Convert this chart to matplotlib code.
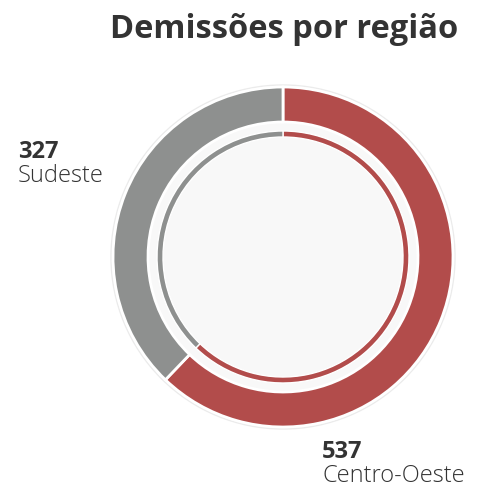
import matplotlib.pyplot as plt
from matplotlib.patches import Circle

# dados
regioes = ['Centro-Oeste', 'Sudeste']
demissoes = [537, 327]
cores = ['#b24c4b', '#8e908f']

fig = plt.figure(figsize=(4.8, 4.88), dpi=100)
ax = fig.add_axes([0, 0, 1, 1])

cx, cy = 283, 488 - 257

# fundo do donut
ax.add_patch(Circle((cx, cy), 172, facecolor='#f8f8f8', edgecolor='#ebebeb', lw=1, zorder=0))

# anel externo
ax.pie(demissoes, colors=cores, radius=170, center=(cx, cy), startangle=90,
       counterclock=False, frame=True,
       wedgeprops=dict(width=35, edgecolor='white', linewidth=2))
# anel interno
ax.pie(demissoes, colors=cores, radius=126, center=(cx, cy), startangle=90,
       counterclock=False, frame=True,
       wedgeprops=dict(width=6, edgecolor='white', linewidth=1))
ax.set_xlim(0, 480)
ax.set_ylim(0, 488)
ax.set_aspect('equal')
ax.axis('off')

fig.text(284 / 480, 1 - 30 / 488, 'Demissões por região', ha='center', va='center',
         fontsize=23.5, fontweight='bold', color='#333333', family='Open Sans')

fig.text(18 / 480, 1 - 152 / 488, str(demissoes[1]), ha='left', va='center',
         fontsize=17, fontweight='bold', color='#333333', family='Open Sans')
fig.text(18 / 480, 1 - 176 / 488, regioes[1], ha='left', va='center',
         fontsize=17, fontweight='light', color='#333333', family='Open Sans')

fig.text(322 / 480, 1 - 452 / 488, str(demissoes[0]), ha='left', va='center',
         fontsize=17, fontweight='bold', color='#333333', family='Open Sans')
fig.text(322 / 480, 1 - 476 / 488, regioes[0], ha='left', va='center',
         fontsize=17, fontweight='light', color='#333333', family='Open Sans')

fig.savefig('out.png', dpi=100, facecolor='white')
